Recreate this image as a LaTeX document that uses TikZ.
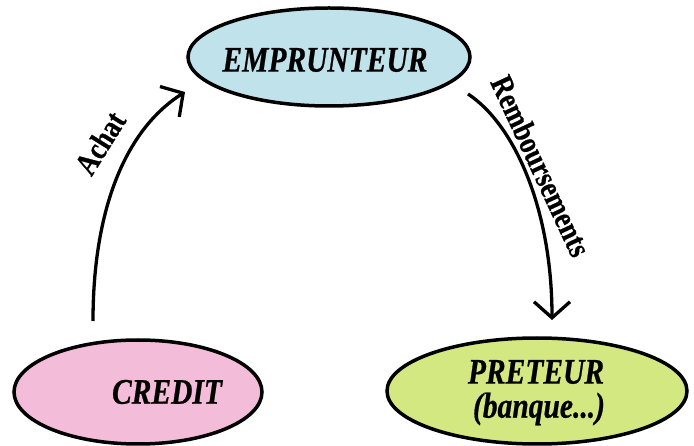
\documentclass[tikz,border=0pt]{standalone}
\usepackage{fontspec}
\setmainfont{Liberation Serif}
\newfontfamily\labfont[FakeStretch=0.82,BoldFeatures={FakeBold=0.6},BoldItalicFeatures={FakeBold=0.6}]{Liberation Serif}
\usetikzlibrary{shapes.geometric,arrows.meta}
\definecolor{cblue}{RGB}{192,226,234}
\definecolor{cpink}{RGB}{243,188,216}
\definecolor{cgreen}{RGB}{212,232,130}
\tikzset{
  oval/.style={ellipse, draw=black, line width=3.5pt, inner sep=0pt},
  big/.style={font=\labfont\fontsize{36}{40}\selectfont\bfseries\itshape, inner sep=0pt},
  arrlab/.style={font=\labfont\fontsize{32}{34}\selectfont\bfseries, inner sep=0pt},
  flow/.style={line width=3.3pt, -{Straight Barb[length=16pt,width=36pt,line width=3.3pt]}}
}
\begin{document}
\begin{tikzpicture}[x=1pt,y=-1pt]
\useasboundingbox (0,0) rectangle (694,446);
\node[oval, fill=cblue, minimum width=282pt, minimum height=98pt] (emp) at (329,57) {};
\node[big] (empT) at (325,60) {EMPRUNTEUR};
\node[oval, fill=cpink, minimum width=248pt, minimum height=104pt] (cred) at (138,392) {};
\node[big] (credT) at (167,392) {CREDIT};
\node[oval, fill=cgreen, minimum width=300pt, minimum height=106pt] (pret) at (537,391) {};
\node[big] (pretT) at (536,372) {PRETEUR};
\node[big] (pretT2) at (539,409) {(banque...)};
\coordinate (a0) at (93,321);
\coordinate (a1) at (185,92);
\coordinate (r0) at (468,94);
\coordinate (r1) at (552,320);
\draw[flow] (a0) .. controls (93,210) and (125,130) .. (a1);
\draw[flow] (r0) .. controls (515,125) and (552,210) .. (r1);
\node[arrlab, rotate=58] (achat) at (100,143) {Achat};
\node[arrlab, rotate=-65] (remb) at (541,166) {Remboursements};
\end{tikzpicture}
\end{document}
